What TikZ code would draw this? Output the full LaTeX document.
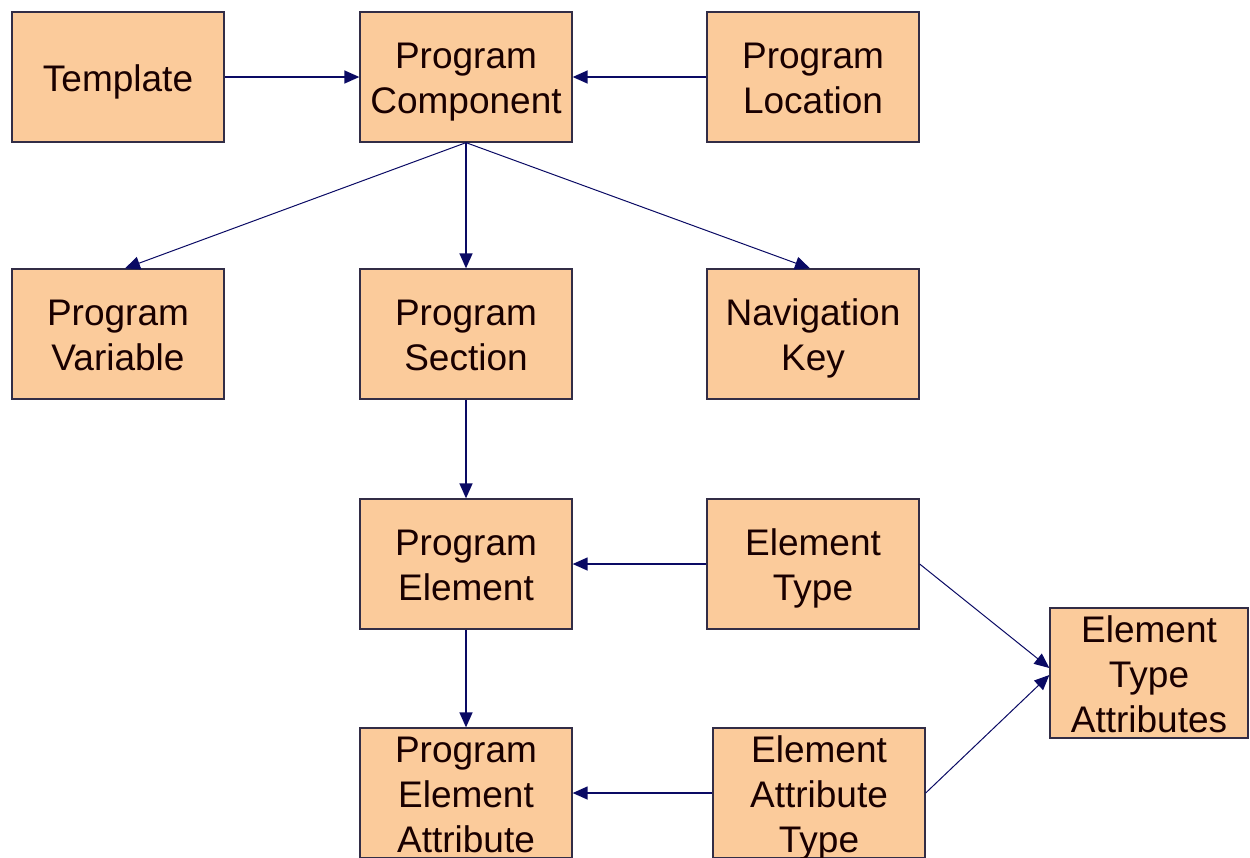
\documentclass[tikz,border=0pt]{standalone}
\usepackage{fontspec}
\setmainfont{Liberation Sans}
\usetikzlibrary{arrows.meta,calc}
\definecolor{peach}{RGB}{251,203,155}
\definecolor{navy}{RGB}{10,10,100}
\definecolor{boxline}{RGB}{50,45,70}
\newcommand{\boxtext}[1]{\begin{tabular}{@{}c@{}}#1\end{tabular}}
\begin{document}
\begin{tikzpicture}[x=1pt,y=-1pt,
  entity/.style={draw=boxline,line width=1.3pt,fill=peach,minimum width=212pt,minimum height=130pt,
    inner sep=0pt},
  txt/.style={inner sep=0pt,font=\fontsize{37}{45}\selectfont,text=black!90!red,yshift=-5pt},
  link/.style={draw=navy,line width=1.4pt,-{Triangle[length=15pt,width=13pt]}},
  thin link/.style={link,line width=1pt}]
\useasboundingbox (0,0) rectangle (1250,857);
\node[entity] (tpl) at (118,77) {};
\node[entity] (pc) at (466,77) {};
\node[entity] (pl) at (813,77) {};
\node[entity] (pv) at (118,334) {};
\node[entity] (ps) at (466,334) {};
\node[entity] (nk) at (813,334) {};
\node[entity] (pe) at (466,564) {};
\node[entity] (et) at (813,564) {};
\node[entity,minimum width=198pt] (eta) at (1149,673) {};
\node[entity] (pea) at (466,793) {};
\node[entity] (eat) at (819,793) {};
\node[txt] (tpl-t) at (tpl.center) {\boxtext{Template}};
\node[txt] (pc-t) at (pc.center) {\boxtext{Program\\Component}};
\node[txt] (pl-t) at (pl.center) {\boxtext{Program\\Location}};
\node[txt] (pv-t) at (pv.center) {\boxtext{Program\\Variable}};
\node[txt] (ps-t) at (ps.center) {\boxtext{Program\\Section}};
\node[txt] (nk-t) at (nk.center) {\boxtext{Navigation\\Key}};
\node[txt] (pe-t) at (pe.center) {\boxtext{Program\\Element}};
\node[txt] (et-t) at (et.center) {\boxtext{Element\\Type}};
\node[txt] (eta-t) at (eta.center) {\boxtext{Element\\Type\\Attributes}};
\node[txt] (pea-t) at (pea.center) {\boxtext{Program\\Element\\Attribute}};
\node[txt] (eat-t) at (eat.center) {\boxtext{Element\\Attribute\\Type}};
\draw[link] (tpl.east) -- (pc.west);
\draw[link] (pl.west) -- (pc.east);
\draw[thin link] (pc.south) -- ($(pv.north)+(7,0)$);
\draw[link] (pc.south) -- (ps.north);
\draw[thin link] (pc.south) -- ($(nk.north)+(-3,0)$);
\draw[link] (ps.south) -- (pe.north);
\draw[link] (et.west) -- (pe.east);
\draw[link] (pe.south) -- (pea.north);
\draw[link] (eat.west) -- (pea.east);
\draw[thin link] (et.east) -- ($(eta.west)+(0,-5)$);
\draw[thin link] (eat.east) -- ($(eta.west)+(0,2)$);
\end{tikzpicture}
\end{document}
